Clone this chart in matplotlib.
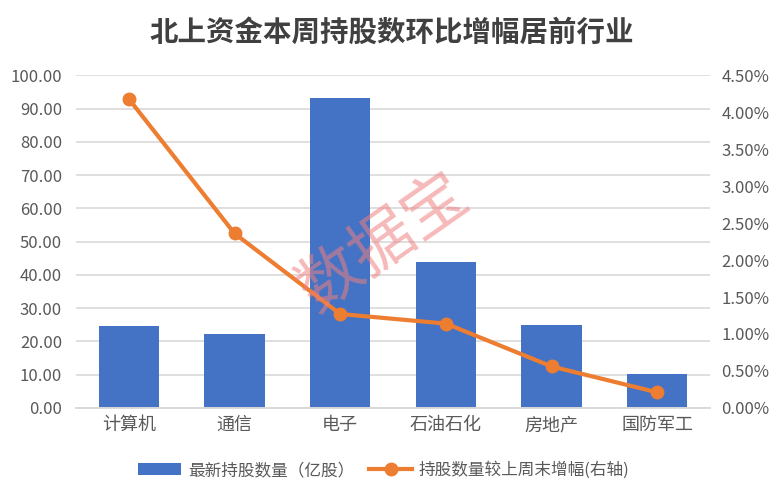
import matplotlib
matplotlib.use('Agg')
import matplotlib.pyplot as plt
from matplotlib.ticker import FuncFormatter, MultipleLocator

plt.rcParams['font.family'] = ['Noto Sans CJK SC', 'DejaVu Sans']

categories = ['计算机', '通信', '电子', '石油石化', '房地产', '国防军工']
holdings = [24.6, 22.2, 93.1, 43.8, 24.9, 10.2]       # 亿股
growth = [4.18, 2.36, 1.27, 1.14, 0.56, 0.21]         # %

bar_color = '#4472C4'
line_color = '#ED7D31'
text_color = '#595959'
grid_color = '#D9D9D9'

fig = plt.figure(figsize=(7.83, 4.95), dpi=100)
ax = fig.add_axes([0.097, 0.176, 0.810, 0.672])
ax2 = ax.twinx()

x = list(range(len(categories)))
bars = ax.bar(x, holdings, width=0.57, color=bar_color, zorder=2,
              label='最新持股数量（亿股）')
line, = ax2.plot(x, growth, color=line_color, linewidth=3, marker='o',
                 markersize=9, zorder=3, label='持股数量较上周末增幅(右轴)')

ax.set_xlim(-0.5, len(categories) - 0.5)
ax.set_ylim(0, 100)
ax2.set_ylim(0, 4.5)
ax.yaxis.set_major_locator(MultipleLocator(10))
ax2.yaxis.set_major_locator(MultipleLocator(0.5))
ax.yaxis.set_major_formatter(FuncFormatter(lambda v, p: f'{v:.2f}'))
ax2.yaxis.set_major_formatter(FuncFormatter(lambda v, p: f'{v:.2f}%'))

ax.set_xticks(x)
ax.set_xticklabels(categories)
ax.grid(axis='y', color=grid_color, linewidth=1.2, zorder=0)
ax.set_axisbelow(True)

for a in (ax, ax2):
    for s in ('top', 'left', 'right'):
        a.spines[s].set_visible(False)
    a.spines['bottom'].set_color(grid_color)
    a.spines['bottom'].set_linewidth(1.2)
    a.tick_params(length=0, labelsize=12, labelcolor=text_color)
ax.tick_params(axis='x', labelsize=13, pad=6)
ax.tick_params(axis='y', pad=10)
ax2.tick_params(axis='y', pad=8)

ax2.set_zorder(ax.get_zorder() + 1)
ax2.patch.set_visible(False)

fig.text(0.5, 0.933, '北上资金本周持股数环比增幅居前行业', ha='center', va='center',
         fontsize=20.5, fontweight='bold', color='#404040')

# watermark
fig.text(0.49, 0.51, '数据宝', ha='center', va='center', fontsize=46,
         rotation=35, color='#F08080', alpha=0.55, zorder=10)

fig.legend(handles=[bars, line], loc='center', bbox_to_anchor=(0.49, 0.05),
           ncol=2, frameon=False, fontsize=12, labelcolor=text_color,
           handlelength=2.6, columnspacing=0.9, handletextpad=0.4)

fig.savefig('out.png', dpi=100)
